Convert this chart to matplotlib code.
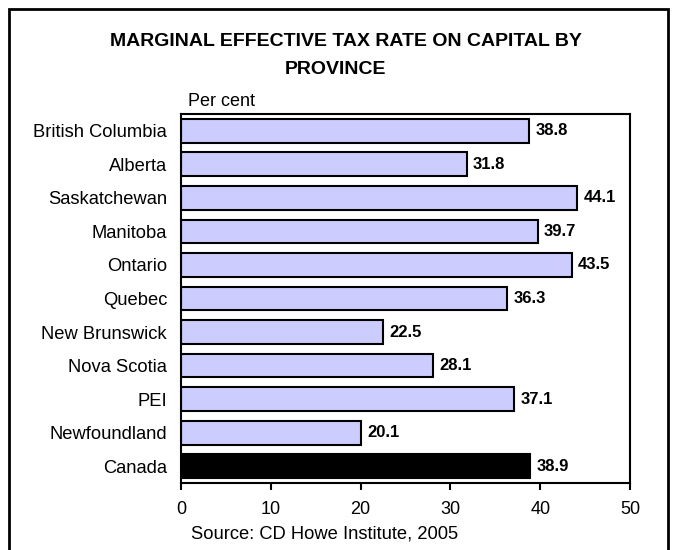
import matplotlib.pyplot as plt
from matplotlib.patches import Rectangle

plt.rcParams['font.family'] = ['Liberation Sans', 'DejaVu Sans']

provinces = ['British Columbia', 'Alberta', 'Saskatchewan', 'Manitoba', 'Ontario',
             'Quebec', 'New Brunswick', 'Nova Scotia', 'PEI', 'Newfoundland', 'Canada']
rates = [38.8, 31.8, 44.1, 39.7, 43.5, 36.3, 22.5, 28.1, 37.1, 20.1, 38.9]
xticks = [0, 10, 20, 30, 40, 50]

fig = plt.figure(figsize=(6.78, 5.5), dpi=100)
ax = fig.add_axes([181 / 678, 1 - 483 / 550, 449 / 678, 369 / 550])

# outer frame around the whole chart
fig.patches.append(Rectangle((9 / 678, -0.05), 659 / 678, 1.05 - 9 / 550,
                             transform=fig.transFigure, fill=False,
                             edgecolor='black', linewidth=2))

colors = ['#CCCCFF'] * (len(provinces) - 1) + ['black']
pos = list(range(len(provinces)))
ax.barh(pos, rates, height=0.71, color=colors, edgecolor='black', linewidth=1.5)

for y, v in zip(pos, rates):
    ax.text(v + 0.7, y, f'{v:.1f}', va='center', ha='left', fontsize=12, fontweight='bold')

ax.set_xlim(0, 50)
ax.set_ylim(len(provinces) - 0.5, -0.5)
ax.set_yticks(pos)
ax.set_yticklabels(provinces, fontsize=13.2)
ax.tick_params(axis='y', length=0, pad=10)
ax.set_xticks(xticks)
ax.set_xticklabels([str(t) for t in xticks], fontsize=13)
ax.tick_params(axis='x', direction='out', length=5, width=1.5, pad=8)
for side in ['left', 'bottom', 'top', 'right']:
    ax.spines[side].set_linewidth(1.5)

fig.text(346 / 678, 1 - 42 / 550, 'MARGINAL EFFECTIVE TAX RATE ON CAPITAL BY', ha='center',
         va='center', fontsize=14, fontweight='bold')
fig.text(335 / 678, 1 - 70 / 550, 'PROVINCE', ha='center', va='center', fontsize=14,
         fontweight='bold')
fig.text(188 / 678, 1 - 102 / 550, 'Per cent', ha='left', va='center', fontsize=13)
fig.text(191 / 678, 1 - 534 / 550, 'Source: CD Howe Institute, 2005', ha='left', va='center',
         fontsize=13.2)

fig.savefig('out.png', dpi=100)
